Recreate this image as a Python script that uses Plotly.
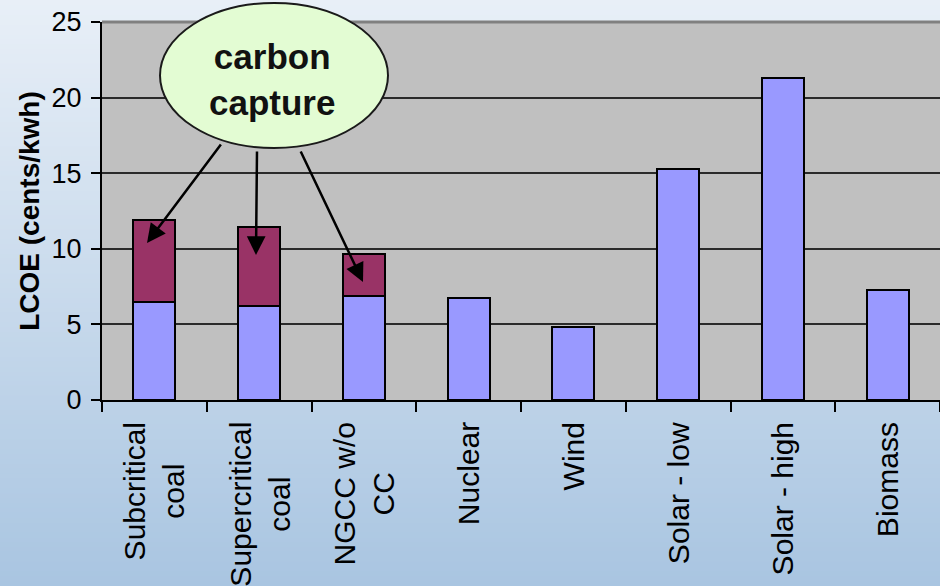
import plotly.graph_objects as go

# Levelized cost of electricity by generation technology
categories = ["Subcritical coal", "Supercritical coal", "NGCC w/o CC", "Nuclear",
              "Wind", "Solar - low", "Solar - high", "Biomass"]
tick_labels = ["Subcritical<br>coal", "Supercritical<br>coal", "NGCC w/o<br>CC", "Nuclear",
               "Wind", "Solar - low", "Solar - high", "Biomass"]
base_cost = [6.45, 6.25, 6.9, 6.73, 4.85, 15.3, 21.3, 7.3]
carbon_capture_cost = [5.43, 5.19, 2.77, None, None, None, None, None]

W, H = 940, 586
L, R, T, B = 102, 0, 22, 186
FONT = "Liberation Sans"
pw, ph = W - L - R, H - T - B


def px_to_paper_x(px):
    return (px - L) / pw


def px_to_paper_y(py):
    return (H - B - py) / ph


fig = go.Figure()
fig.add_bar(x=categories, y=base_cost, marker=dict(color="#9999FF", line=dict(color="#000000", width=2)),
            name="Base", showlegend=False)
fig.add_bar(x=categories, y=carbon_capture_cost,
            marker=dict(color="#993366", line=dict(color="#000000", width=2)),
            name="Carbon capture", showlegend=False)

# background gradient (light at top, bluer at bottom)
shapes = []
top_c = (232, 239, 247)
bot_c = (169, 197, 225)
n = 120
for i in range(n):
    f = i / (n - 1)
    c = tuple(round(top_c[k] + (bot_c[k] - top_c[k]) * f) for k in range(3))
    py0 = H * i / n
    py1 = H * (i + 1) / n + 1
    shapes.append(dict(type="rect", xref="paper", yref="paper", layer="below",
                       x0=px_to_paper_x(0), x1=px_to_paper_x(W),
                       y0=px_to_paper_y(py1), y1=px_to_paper_y(py0),
                       fillcolor="rgb(%d,%d,%d)" % c, line=dict(width=0)))

# plot area
shapes.append(dict(type="rect", xref="paper", yref="paper", layer="below",
                   x0=0, x1=1, y0=0, y1=1, fillcolor="#C0C0C0", line=dict(width=0)))
# top border of plot area
shapes.append(dict(type="line", xref="paper", yref="paper", layer="below",
                   x0=0, x1=1, y0=1, y1=1, line=dict(color="#808080", width=3)))

# callout ellipse
shapes.append(dict(type="circle", xref="paper", yref="paper", layer="above",
                   x0=px_to_paper_x(160), x1=px_to_paper_x(388),
                   y0=px_to_paper_y(148), y1=px_to_paper_y(3),
                   fillcolor="#E3FCD3", line=dict(color="#1A1A1A", width=2)))

annotations = []
# category labels, rotated, centred lines
for i, lab in enumerate(tick_labels):
    annotations.append(dict(x=categories[i], y=0, xref="x", yref="paper", text=lab,
                            textangle=-90, showarrow=False, xanchor="center", yanchor="top",
                            yshift=-20, align="center",
                            font=dict(family=FONT, size=30, color="#000000")))

annotations.append(dict(x=px_to_paper_x(272), y=px_to_paper_y(79), xref="paper", yref="paper",
                        xanchor="center", yanchor="middle",
                        text="<b>carbon<br>capture</b>", showarrow=False, align="center",
                        font=dict(family=FONT, size=35, color="#111111")))

# arrows from the callout into the carbon-capture segments
arrows = [((222, 143), (147, 243)), ((257, 150), (256, 255)), ((300, 150), (363, 282))]
for (tx, ty), (hx, hy) in arrows:
    annotations.append(dict(x=px_to_paper_x(hx), y=px_to_paper_y(hy), xref="paper", yref="paper",
                            ax=tx - hx, ay=ty - hy, axref="pixel", ayref="pixel",
                            text="", showarrow=True, arrowhead=2, arrowsize=1.5, arrowwidth=2.5,
                            arrowcolor="#000000"))

fig.update_layout(
    width=W, height=H, margin=dict(l=L, r=R, t=T, b=B, pad=0),
    paper_bgcolor="rgba(0,0,0,0)", plot_bgcolor="rgba(0,0,0,0)",
    barmode="stack", bargap=0.6,
    shapes=shapes, annotations=annotations,
    font=dict(family=FONT, color="#000000"),
    xaxis=dict(range=[-0.5, 7.5], showticklabels=False, ticks="outside", tickson="boundaries",
               ticklen=10, tickwidth=1.5, tickcolor="#000000", showline=True, linecolor="#000000",
               linewidth=2, showgrid=False, zeroline=False, fixedrange=True),
    yaxis=dict(range=[0, 25], dtick=5, ticks="outside", ticklen=9, tickwidth=1.5, tickcolor="#000000",
               showline=True, linecolor="#000000", linewidth=2, showgrid=True, gridcolor="#2A2A2A",
               gridwidth=1.5, zeroline=False, ticklabelstandoff=4,
               tickfont=dict(family=FONT, size=27, color="#000000"),
               title=dict(text="<b>LCOE (cents/kwh)</b>", standoff=4,
                          font=dict(family=FONT, size=28, color="#000000"))),
)

fig.write_html("out.html")
